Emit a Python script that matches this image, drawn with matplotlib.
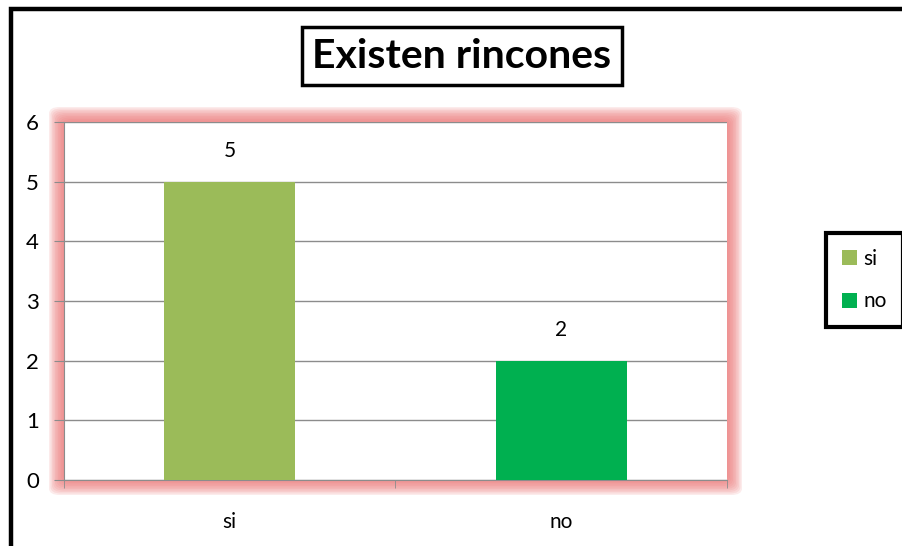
import matplotlib.pyplot as plt
from matplotlib.patches import FancyBboxPatch
from matplotlib.lines import Line2D
import numpy as np

# data
categories = ['si', 'no']
values = [5, 2]
colors = ['#9BBB59', '#00B050']
title = 'Existen rincones'

W, H = 903, 546
fig = plt.figure(figsize=(W / 100, H / 100), dpi=100)
plt.rcParams['font.family'] = ['Lato', 'DejaVu Sans']

# plot area in pixels (left, top, right, bottom)
px_l, px_t, px_r, px_b = 64, 122, 727, 480
ax = fig.add_axes([px_l / W, 1 - px_b / H, (px_r - px_l) / W, (px_b - px_t) / H])
ax.set_zorder(2)

# pink glow round the plot area
glow = 15
for i in range(10):
    d = glow * (i + 1) / 10
    p = FancyBboxPatch(((px_l - d) / W, 1 - (px_b + d) / H), (px_r - px_l + 2 * d) / W,
                       (px_b - px_t + 2 * d) / H, boxstyle='round,pad=0,rounding_size=0.012',
                       transform=fig.transFigure, facecolor='#EE7C7C', edgecolor='none',
                       alpha=0.15, zorder=0)
    fig.patches.append(p)

# outer black frame (only left and top edges visible)
fig.add_artist(Line2D([11 / W, 11 / W, 1.05], [-0.05, 1 - 8.5 / H, 1 - 8.5 / H],
                      transform=fig.transFigure, color='black', linewidth=3.2,
                      solid_joinstyle='miter', zorder=5))

x = np.arange(len(categories))
bars = ax.bar(x, values, width=0.395, color=colors, zorder=3)
for xi, v in zip(x, values):
    ax.annotate(str(v), (xi, v), xytext=(0, 15), textcoords='offset points',
                ha='center', va='bottom', fontsize=15)

ax.set_xlim(-0.5, 1.5)
ax.set_ylim(0, 6)
ax.set_yticks(range(7))
ax.yaxis.grid(True, color='#8C8C8C', linewidth=1)
ax.set_axisbelow(True)
for s in ['top', 'right']:
    ax.spines[s].set_visible(False)
for s in ['left', 'bottom']:
    ax.spines[s].set_color('#8C8C8C')
ax.tick_params(axis='y', length=7, color='#8C8C8C', labelsize=16, pad=11)
ax.set_xticks(x)
ax.set_xticklabels(categories)
ax.set_xticks([-0.5, 0.5, 1.5], minor=True)
ax.tick_params(axis='x', which='major', length=0, labelsize=15, pad=23)
ax.tick_params(axis='x', which='minor', length=6, color='#8C8C8C')

fig.text(462 / W, 1 - 56 / H, title, ha='center', va='center', fontsize=29.5, fontweight='bold',
         bbox=dict(boxstyle='square,pad=0.25', facecolor='white', edgecolor='black', linewidth=2.5))

ax.legend(bars, categories, loc='center', bbox_to_anchor=(864.5 / W, 1 - 280 / H),
          bbox_transform=fig.transFigure, fancybox=False, edgecolor='black', fontsize=15,
          handlelength=0.75, handleheight=0.75, handletextpad=0.3, labelspacing=1.1,
          borderpad=0.75, framealpha=1).get_frame().set_linewidth(3)

fig.savefig('out.png', dpi=100)
